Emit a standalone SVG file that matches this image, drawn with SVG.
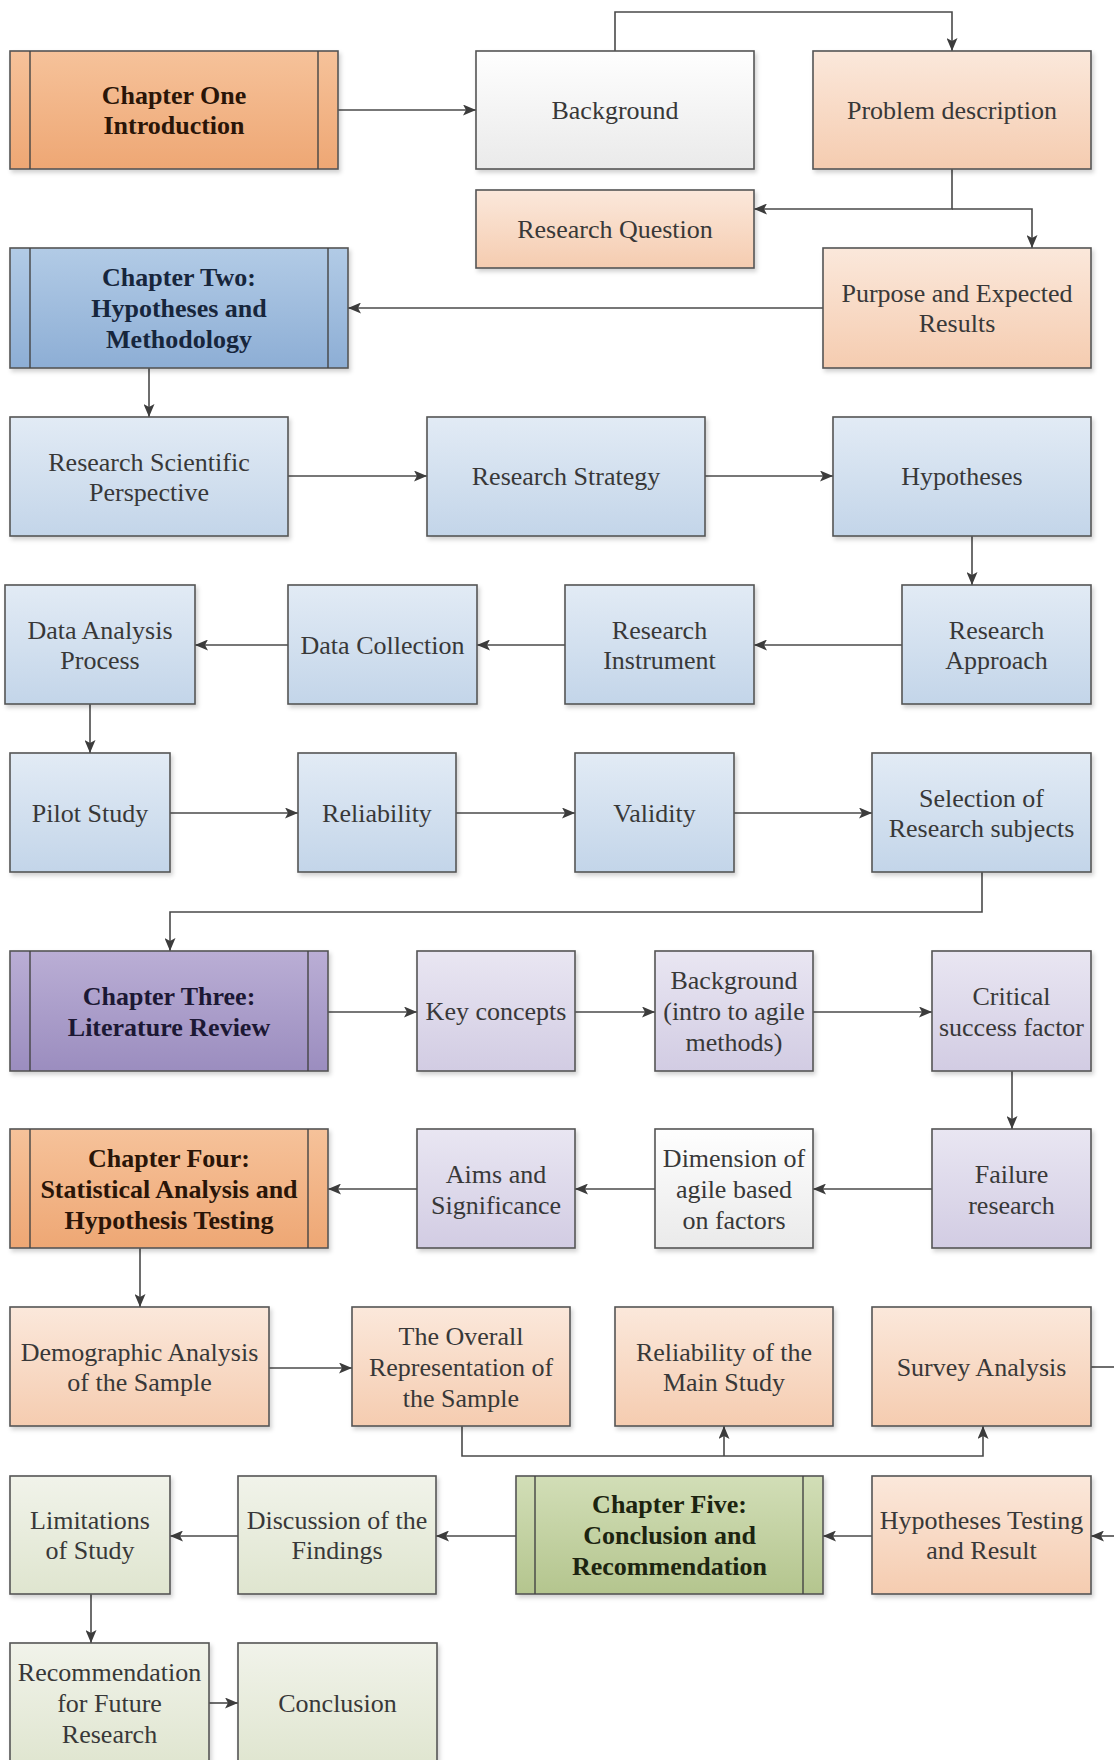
<svg xmlns="http://www.w3.org/2000/svg" width="1114" height="1760" viewBox="0 0 1114 1760" font-family="'Liberation Serif', 'Times New Roman', Times, serif">
<defs>
<linearGradient id="gOrange" x1="0" y1="0" x2="0" y2="1"><stop offset="0" stop-color="#f6c29a"/><stop offset="1" stop-color="#eea774"/></linearGradient>
<linearGradient id="gPeach" x1="0" y1="0" x2="0" y2="1"><stop offset="0" stop-color="#fbe8db"/><stop offset="1" stop-color="#f5ccb0"/></linearGradient>
<linearGradient id="gBlue" x1="0" y1="0" x2="0" y2="1"><stop offset="0" stop-color="#b2cbe6"/><stop offset="1" stop-color="#8daed5"/></linearGradient>
<linearGradient id="gLBlue" x1="0" y1="0" x2="0" y2="1"><stop offset="0" stop-color="#e2ebf5"/><stop offset="1" stop-color="#c3d5e9"/></linearGradient>
<linearGradient id="gPurple" x1="0" y1="0" x2="0" y2="1"><stop offset="0" stop-color="#baaed5"/><stop offset="1" stop-color="#9b8dbf"/></linearGradient>
<linearGradient id="gLPurple" x1="0" y1="0" x2="0" y2="1"><stop offset="0" stop-color="#e9e6f2"/><stop offset="1" stop-color="#d2cce3"/></linearGradient>
<linearGradient id="gGreen" x1="0" y1="0" x2="0" y2="1"><stop offset="0" stop-color="#d2deb7"/><stop offset="1" stop-color="#b4c58e"/></linearGradient>
<linearGradient id="gLGreen" x1="0" y1="0" x2="0" y2="1"><stop offset="0" stop-color="#f1f3ea"/><stop offset="1" stop-color="#dfe5cf"/></linearGradient>
<linearGradient id="gWhite" x1="0" y1="0" x2="0" y2="1"><stop offset="0" stop-color="#fefefe"/><stop offset="1" stop-color="#eaeaea"/></linearGradient>
<filter id="sh" x="-10%" y="-10%" width="120%" height="130%"><feDropShadow dx="2" dy="3" stdDeviation="2" flood-color="#000" flood-opacity="0.18"/></filter>
<marker id="ah" viewBox="0 0 13 11" refX="13" refY="5.5" markerWidth="13" markerHeight="11" markerUnits="userSpaceOnUse" orient="auto"><path d="M0,0 L13,5.5 L0,11 L3,5.5 Z" fill="#3c3c3c"/></marker>
</defs>
<style>
rect{stroke:#555;stroke-width:1.6;filter:url(#sh)}
.inner{stroke:#444;stroke-width:1.4}
.orange{fill:url(#gOrange)}
.peach{fill:url(#gPeach)}
.blue{fill:url(#gBlue)}
.lblue{fill:url(#gLBlue)}
.purple{fill:url(#gPurple)}
.lpurple{fill:url(#gLPurple)}
.green{fill:url(#gGreen)}
.lgreen{fill:url(#gLGreen)}
.white{fill:url(#gWhite)}
text{font-family:'Liberation Serif','Times New Roman',Times,serif;font-size:26px;fill:#383838;text-anchor:middle}
text.b{font-weight:bold;fill:#2a1508}
text.bb{font-weight:bold;fill:#17263c}
text.bp{font-weight:bold;fill:#1c1834}
text.bg{font-weight:bold;fill:#1c2410}
.conn path{fill:none;stroke:#4a4a4a;stroke-width:1.6}
</style>
<rect x="0" y="0" width="1114" height="1760" fill="#fff" style="stroke:none;filter:none"/>

<g id="connectors" class="conn">
<path d="M338,110 H476" marker-end="url(#ah)"/>
<path d="M615,51 V12 H952 V51" marker-end="url(#ah)"/>
<path d="M952,169 V209 H754" marker-end="url(#ah)"/>
<path d="M952,209 H1032 V248" marker-end="url(#ah)"/>
<path d="M823,308 H348" marker-end="url(#ah)"/>
<path d="M149,368 V417" marker-end="url(#ah)"/>
<path d="M288,476 H427" marker-end="url(#ah)"/>
<path d="M705,476 H833" marker-end="url(#ah)"/>
<path d="M972,536 V585" marker-end="url(#ah)"/>
<path d="M902,645 H754" marker-end="url(#ah)"/>
<path d="M565,645 H477" marker-end="url(#ah)"/>
<path d="M288,645 H195" marker-end="url(#ah)"/>
<path d="M90,704 V753" marker-end="url(#ah)"/>
<path d="M170,813 H298" marker-end="url(#ah)"/>
<path d="M456,813 H575" marker-end="url(#ah)"/>
<path d="M734,813 H872" marker-end="url(#ah)"/>
<path d="M982,872 V912 H170 V951" marker-end="url(#ah)"/>
<path d="M328,1012 H417" marker-end="url(#ah)"/>
<path d="M575,1012 H655" marker-end="url(#ah)"/>
<path d="M813,1012 H932" marker-end="url(#ah)"/>
<path d="M1012,1071 V1129" marker-end="url(#ah)"/>
<path d="M932,1189 H813" marker-end="url(#ah)"/>
<path d="M655,1189 H575" marker-end="url(#ah)"/>
<path d="M417,1189 H328" marker-end="url(#ah)"/>
<path d="M140,1248 V1307" marker-end="url(#ah)"/>
<path d="M269,1368 H352" marker-end="url(#ah)"/>
<path d="M462,1426 V1456 H983 V1426" marker-end="url(#ah)"/>
<path d="M724,1456 V1426" marker-end="url(#ah)"/>
<path d="M1091,1367 H1116"/>
<path d="M1116,1536 H1091" marker-end="url(#ah)"/>
<path d="M872,1536 H823" marker-end="url(#ah)"/>
<path d="M516,1536 H436" marker-end="url(#ah)"/>
<path d="M238,1536 H170" marker-end="url(#ah)"/>
<path d="M91,1594 V1643" marker-end="url(#ah)"/>
<path d="M209,1703 H238" marker-end="url(#ah)"/>
</g>

<g id="ch1"><rect class="orange" x="10" y="51" width="328" height="118"/><line class="inner" x1="30" y1="51" x2="30" y2="169"/><line class="inner" x1="318" y1="51" x2="318" y2="169"/><text class="b" x="174"><tspan x="174" y="104">Chapter One</tspan><tspan x="174" y="134">Introduction</tspan></text></g>
<g id="background1"><rect class="white" x="476" y="51" width="278" height="118"/><text x="615" y="119">Background</text></g>
<g id="problem"><rect class="peach" x="813" y="51" width="278" height="118"/><text x="952" y="119">Problem description</text></g>
<g id="researchq"><rect class="peach" x="476" y="190" width="278" height="78"/><text x="615" y="238">Research Question</text></g>
<g id="purpose"><rect class="peach" x="823" y="248" width="268" height="120"/><text x="957"><tspan x="957" y="302">Purpose and Expected</tspan><tspan x="957" y="332">Results</tspan></text></g>
<g id="ch2"><rect class="blue" x="10" y="248" width="338" height="120"/><line class="inner" x1="30" y1="248" x2="30" y2="368"/><line class="inner" x1="328" y1="248" x2="328" y2="368"/><text class="bb" x="179"><tspan x="179" y="286">Chapter Two:</tspan><tspan x="179" y="317">Hypotheses and</tspan><tspan x="179" y="348">Methodology</tspan></text></g>

<g id="rsp"><rect class="lblue" x="10" y="417" width="278" height="119"/><text x="149"><tspan x="149" y="471">Research Scientific</tspan><tspan x="149" y="501">Perspective</tspan></text></g>
<g id="rstrategy"><rect class="lblue" x="427" y="417" width="278" height="119"/><text x="566" y="485">Research Strategy</text></g>
<g id="hypotheses"><rect class="lblue" x="833" y="417" width="258" height="119"/><text x="962" y="485">Hypotheses</text></g>
<g id="rapproach"><rect class="lblue" x="902" y="585" width="189" height="119"/><text x="996.5"><tspan x="996.5" y="639">Research</tspan><tspan x="996.5" y="669">Approach</tspan></text></g>
<g id="rinstrument"><rect class="lblue" x="565" y="585" width="189" height="119"/><text x="659.5"><tspan x="659.5" y="639">Research</tspan><tspan x="659.5" y="669">Instrument</tspan></text></g>
<g id="dcollection"><rect class="lblue" x="288" y="585" width="189" height="119"/><text x="382.5" y="654">Data Collection</text></g>
<g id="danalysis"><rect class="lblue" x="5" y="585" width="190" height="119"/><text x="100"><tspan x="100" y="639">Data Analysis</tspan><tspan x="100" y="669">Process</tspan></text></g>
<g id="pilot"><rect class="lblue" x="10" y="753" width="160" height="119"/><text x="90" y="822">Pilot Study</text></g>
<g id="reliability"><rect class="lblue" x="298" y="753" width="158" height="119"/><text x="377" y="822">Reliability</text></g>
<g id="validity"><rect class="lblue" x="575" y="753" width="159" height="119"/><text x="654.5" y="822">Validity</text></g>
<g id="selection"><rect class="lblue" x="872" y="753" width="219" height="119"/><text x="981.5"><tspan x="981.5" y="807">Selection of</tspan><tspan x="981.5" y="837">Research subjects</tspan></text></g>

<g id="ch3"><rect class="purple" x="10" y="951" width="318" height="120"/><line class="inner" x1="30" y1="951" x2="30" y2="1071"/><line class="inner" x1="308" y1="951" x2="308" y2="1071"/><text class="bp" x="169"><tspan x="169" y="1005">Chapter Three:</tspan><tspan x="169" y="1036">Literature Review</tspan></text></g>
<g id="keyconcepts"><rect class="lpurple" x="417" y="951" width="158" height="120"/><text x="496" y="1020">Key concepts</text></g>
<g id="background2"><rect class="lpurple" x="655" y="951" width="158" height="120"/><text x="734"><tspan x="734" y="989">Background</tspan><tspan x="734" y="1020">(intro to agile</tspan><tspan x="734" y="1051">methods)</tspan></text></g>
<g id="critical"><rect class="lpurple" x="932" y="951" width="159" height="120"/><text x="1011.5"><tspan x="1011.5" y="1005">Critical</tspan><tspan x="1011.5" y="1036">success factor</tspan></text></g>
<g id="failure"><rect class="lpurple" x="932" y="1129" width="159" height="119"/><text x="1011.5"><tspan x="1011.5" y="1183">Failure</tspan><tspan x="1011.5" y="1214">research</tspan></text></g>
<g id="dimension"><rect class="white" x="655" y="1129" width="158" height="119"/><text x="734"><tspan x="734" y="1167">Dimension of</tspan><tspan x="734" y="1198">agile based</tspan><tspan x="734" y="1229">on factors</tspan></text></g>
<g id="aims"><rect class="lpurple" x="417" y="1129" width="158" height="119"/><text x="496"><tspan x="496" y="1183">Aims and</tspan><tspan x="496" y="1214">Significance</tspan></text></g>
<g id="ch4"><rect class="orange" x="10" y="1129" width="318" height="119"/><line class="inner" x1="30" y1="1129" x2="30" y2="1248"/><line class="inner" x1="308" y1="1129" x2="308" y2="1248"/><text class="b" x="169"><tspan x="169" y="1167">Chapter Four:</tspan><tspan x="169" y="1198">Statistical Analysis and</tspan><tspan x="169" y="1229">Hypothesis Testing</tspan></text></g>

<g id="demographic"><rect class="peach" x="10" y="1307" width="259" height="119"/><text x="139.5"><tspan x="139.5" y="1361">Demographic Analysis</tspan><tspan x="139.5" y="1391">of the Sample</tspan></text></g>
<g id="overall"><rect class="peach" x="352" y="1307" width="218" height="119"/><text x="461"><tspan x="461" y="1345">The Overall</tspan><tspan x="461" y="1376">Representation of</tspan><tspan x="461" y="1407">the Sample</tspan></text></g>
<g id="relmain"><rect class="peach" x="615" y="1307" width="218" height="119"/><text x="724"><tspan x="724" y="1361">Reliability of the</tspan><tspan x="724" y="1391">Main Study</tspan></text></g>
<g id="survey"><rect class="peach" x="872" y="1307" width="219" height="119"/><text x="981.5" y="1376">Survey Analysis</text></g>
<g id="hyptesting"><rect class="peach" x="872" y="1476" width="219" height="118"/><text x="981.5"><tspan x="981.5" y="1529">Hypotheses Testing</tspan><tspan x="981.5" y="1559">and Result</tspan></text></g>
<g id="ch5"><rect class="green" x="516" y="1476" width="307" height="118"/><line class="inner" x1="535" y1="1476" x2="535" y2="1594"/><line class="inner" x1="803" y1="1476" x2="803" y2="1594"/><text class="bg" x="669.5"><tspan x="669.5" y="1513">Chapter Five:</tspan><tspan x="669.5" y="1544">Conclusion and</tspan><tspan x="669.5" y="1575">Recommendation</tspan></text></g>
<g id="discussion"><rect class="lgreen" x="238" y="1476" width="198" height="118"/><text x="337"><tspan x="337" y="1529">Discussion of the</tspan><tspan x="337" y="1559">Findings</tspan></text></g>
<g id="limitations"><rect class="lgreen" x="10" y="1476" width="160" height="118"/><text x="90"><tspan x="90" y="1529">Limitations</tspan><tspan x="90" y="1559">of Study</tspan></text></g>
<g id="recommendation"><rect class="lgreen" x="10" y="1643" width="199" height="125"/><text x="109.5"><tspan x="109.5" y="1681">Recommendation</tspan><tspan x="109.5" y="1712">for Future</tspan><tspan x="109.5" y="1743">Research</tspan></text></g>
<g id="conclusion"><rect class="lgreen" x="238" y="1643" width="199" height="125"/><text x="337.5" y="1712">Conclusion</text></g>
</svg>
